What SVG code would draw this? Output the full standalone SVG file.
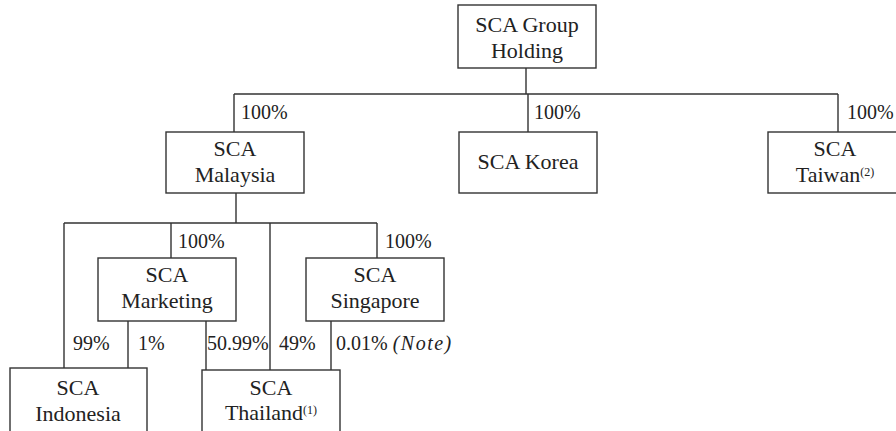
<svg xmlns="http://www.w3.org/2000/svg" width="896" height="431" viewBox="0 0 896 431">
<style>
.box{fill:#fff;stroke:#333;stroke-width:1.4}
.ln{fill:none;stroke:#333;stroke-width:1.4}
.nm{font-family:"Liberation Serif","Times New Roman",serif;font-size:22px;fill:#222;text-anchor:middle}
.pc{font-family:"Liberation Serif","Times New Roman",serif;font-size:20px;fill:#222}
.sup{font-size:12px}
</style>
<rect width="896" height="431" fill="#fff"/>
<g id="connectors">
<path class="ln" d="M526 68V94M234 94H838M234 94V132M528 94V132M838 94V132"/>
<path class="ln" d="M236 193V223M64 223H377M64 223V368M171 223V258M270 223V370M377 223V258"/>
<path class="ln" d="M128 321V368M206 321V370M331 321V370"/>
<text class="pc" x="241" y="119">100%</text>
<text class="pc" x="534" y="119">100%</text>
<text class="pc" x="847" y="119">100%</text>
<text class="pc" x="178" y="248">100%</text>
<text class="pc" x="385" y="248">100%</text>
<text class="pc" x="73" y="350">99%</text>
<text class="pc" x="138" y="350">1%</text>
<text class="pc" x="207" y="350">50.99%</text>
<text class="pc" x="279" y="350">49%</text>
<text class="pc" x="336" y="350">0.01% <tspan font-style="italic" letter-spacing="1.5">(Note)</tspan></text>
</g>
<g id="holding">
<rect class="box" x="458" y="5" width="138" height="63"/>
<text class="nm" x="527" y="32">SCA Group</text>
<text class="nm" x="527" y="58">Holding</text>
</g>
<g id="malaysia">
<rect class="box" x="166" y="132" width="138" height="61"/>
<text class="nm" x="235" y="156">SCA</text>
<text class="nm" x="235" y="182">Malaysia</text>
</g>
<g id="korea">
<rect class="box" x="459" y="132" width="138" height="61"/>
<text class="nm" x="528" y="169">SCA Korea</text>
</g>
<g id="taiwan">
<rect class="box" x="768" y="132" width="138" height="61"/>
<text class="nm" x="835" y="156">SCA</text>
<text class="nm" x="835" y="182">Taiwan<tspan class="sup" dy="-6">(2)</tspan></text>
</g>
<g id="marketing">
<rect class="box" x="98" y="258" width="138" height="63"/>
<text class="nm" x="167" y="282">SCA</text>
<text class="nm" x="167" y="308">Marketing</text>
</g>
<g id="singapore">
<rect class="box" x="306" y="258" width="138" height="63"/>
<text class="nm" x="375" y="282">SCA</text>
<text class="nm" x="375" y="308">Singapore</text>
</g>
<g id="indonesia">
<rect class="box" x="10" y="368" width="137" height="64"/>
<text class="nm" x="78" y="395">SCA</text>
<text class="nm" x="78" y="421">Indonesia</text>
</g>
<g id="thailand">
<rect class="box" x="202" y="370" width="138" height="62"/>
<text class="nm" x="271" y="395">SCA</text>
<text class="nm" x="271" y="420">Thailand<tspan class="sup" dy="-6">(1)</tspan></text>
</g>
</svg>
